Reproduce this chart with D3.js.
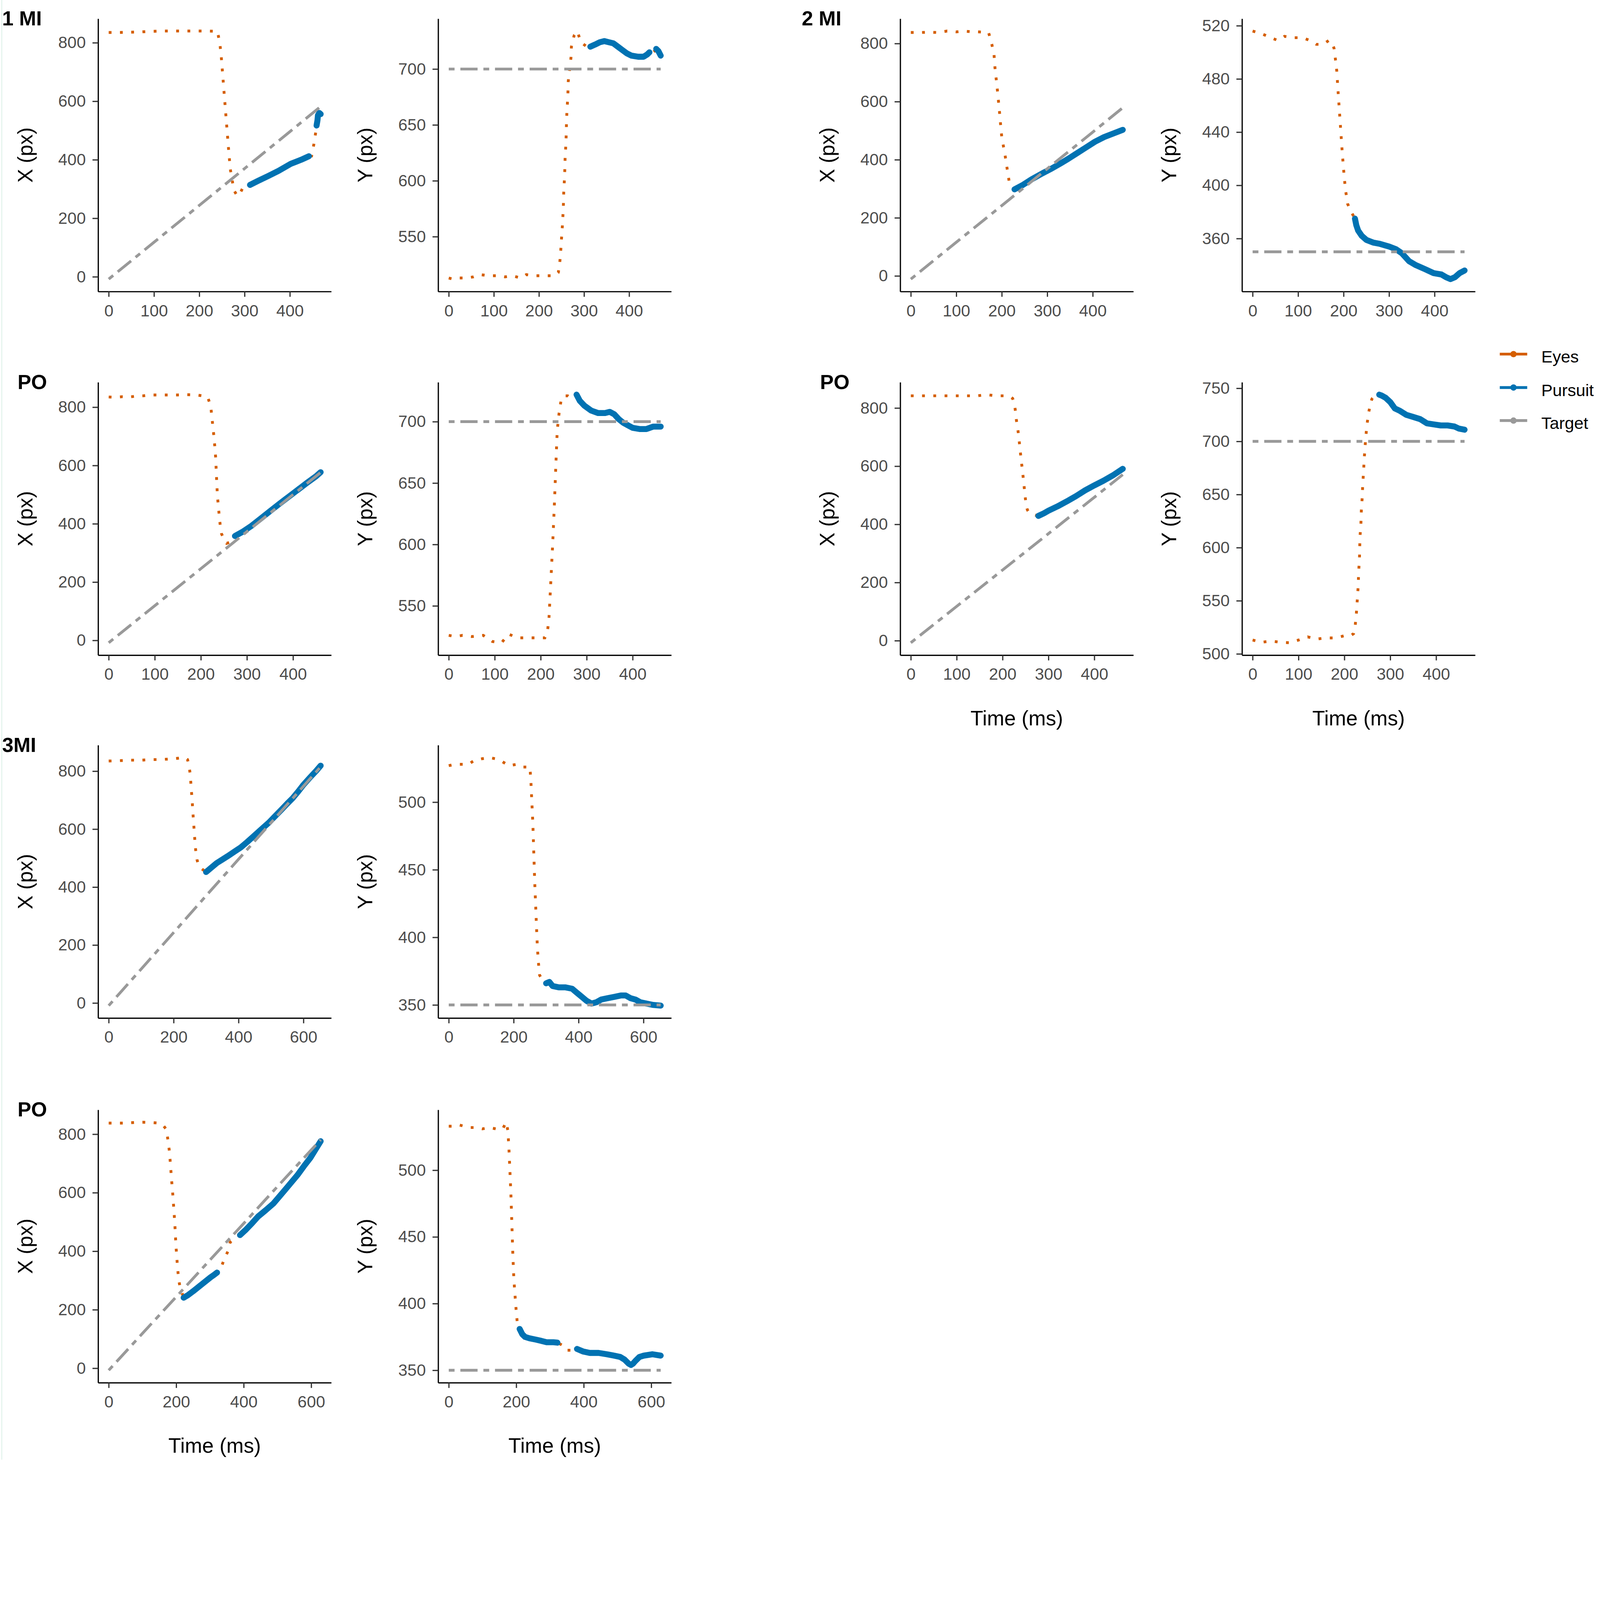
<!DOCTYPE html>
<html>
<head>
<meta charset="utf-8">
<script src="https://cdn.jsdelivr.net/npm/d3@7"></script>
<style>
  html, body { margin: 0; padding: 0; background: #fff; overflow: hidden; }
  #chart { display: block; width: 100vw; height: 100vh; }
  text { font-family: "Liberation Sans", Arial, sans-serif; }
</style>
</head>
<body>
<svg id="chart"></svg>
<script>
const width = 4550;
const height = 4151;

// ---- data: [time (ms), position (px)] ----
// 1 MI
const mi1X_eyes = [[0,835],[20,835],[45,836],[70,837],[95,839],[120,840],[145,840],[170,840],[195,840],[220,840],[240,839],[245,802],[248,763],[250,724],[252,685],[254,644],[256,606],[258,566],[260,527],[262,489],[264,448],[266,414],[268,372],[272,338],[276,297],[284,276],[290,285],[297,307],[306,312],[448,413],[453,453],[457,493]];
const mi1X_pursuit = [[312,314],[330,328],[353,345],[375,362],[402,386],[425,400],[442,412],null,[459,517],[461,535],[462,552],[465,560],[468,556]];
const mi1X_target = [[0,-8],[100,118],[200,244],[300,370],[400,496],[468,582]];

const mi1Y_eyes = [[0,513],[10,512],[20,513],[37,513],[55,514],[70,516],[90,515],[110,515],[125,514],[140,515],[160,513],[172,516],[190,515],[210,515],[235,515],[243,518],[246,526],[248,535],[250,548],[252,560],[254,575],[255,590],[257,605],[258,620],[260,635],[261,650],[262,662],[264,675],[265,689],[268,700],[271,710],[272,720],[278,730],[285,734],[293,724],[306,720],[450,714],[456,716]];
const mi1Y_pursuit = [[314,720],[325,722],[335,724],[345,725],[355,724],[365,723],[375,720],[385,717],[395,714],[405,712],[420,711],[432,711],[440,713],[445,715],null,[460,718],[465,716],[470,712]];
const mi1Y_target = [[0,700],[470,700]];

// 1 MI - PO
const po1X_eyes = [[0,835],[15,834],[30,836],[45,835],[60,838],[75,839],[90,842],[110,842],[130,842],[150,842],[170,843],[190,842],[208,838],[215,834],[219,815],[222,795],[224,765],[226,735],[228,705],[230,670],[232,630],[233,595],[234,560],[235,525],[236,495],[238,460],[240,425],[242,395],[245,365],[250,348],[256,333],[262,336],[268,346]];
const po1X_pursuit = [[274,358],[290,372],[310,393],[330,418],[350,443],[370,468],[390,492],[410,516],[430,540],[450,563],[460,577]];
const po1X_target = [[0,-8],[100,119],[200,246],[300,373],[400,500],[460,576]];

const po1Y_eyes = [[0,526],[15,525],[30,526],[50,525],[75,526],[95,521],[115,520],[130,527],[150,524],[170,524],[190,524],[209,524],[215,530],[218,540],[220,555],[222,570],[224,585],[226,600],[228,617],[230,635],[232,655],[234,675],[236,693],[240,707],[245,719],[252,721],[259,721],[268,719]];
const po1Y_pursuit = [[278,722],[285,717],[295,713],[310,709],[325,707],[340,707],[350,708],[360,706],[370,702],[380,699],[390,697],[400,695],[415,694],[430,694],[445,696],[461,696]];
const po1Y_target = [[0,700],[461,700]];

// 2 MI
const mi2X_eyes = [[0,838],[20,838],[40,839],[60,838],[80,843],[100,840],[115,843],[130,841],[150,840],[171,838],[178,798],[183,761],[185,717],[188,674],[191,630],[195,564],[197,528],[200,477],[207,418],[212,367],[216,327],[222,309]];
const mi2X_pursuit = [[228,298],[245,312],[265,332],[289,353],[310,370],[330,388],[347,404],[365,422],[385,442],[405,462],[425,478],[445,490],[466,503]];
const mi2X_target = [[0,-11],[100,116],[200,242],[300,369],[400,495],[466,579]];

const mi2Y_eyes = [[0,516],[10,515],[20,514],[40,511],[55,509],[70,512],[90,511],[110,511],[125,509],[140,506],[155,506],[168,509],[175,507],[179,503],[182,495],[185,486],[188,470],[191,455],[194,440],[197,425],[200,412],[204,397],[209,386],[214,382],[220,378]];
const mi2Y_pursuit = [[225,375],[228,370],[232,366],[240,362],[250,359],[265,357],[280,356],[300,354],[315,352],[328,349],[344,343],[359,340],[379,337],[398,334],[415,333],[425,331],[435,329.5],[445,331],[455,334],[466,336]];
const mi2Y_target = [[0,350],[466,350]];

// 2 MI - PO
const po2X_eyes = [[0,842],[20,842],[45,842],[70,842],[95,842],[120,842],[145,842],[165,846],[185,842],[205,842],[216,840],[222,833],[226,812],[228,790],[230,760],[233,730],[235,705],[237,675],[239,645],[241,615],[243,590],[245,560],[247,530],[249,500],[251,470],[254,450],[258,440],[264,436],[271,432]];
const po2X_pursuit = [[278,429],[290,438],[300,447],[320,462],[340,479],[360,497],[380,517],[400,534],[420,550],[440,568],[462,591]];
const po2X_target = [[0,-7],[100,118],[200,243],[300,368],[400,493],[462,571]];

const po2Y_eyes = [[0,513],[20,511],[40,512],[60,511],[80,510.5],[100,513],[120,516],[140,514],[160,515],[180,515],[200,517],[213,517],[220,519],[223,524],[226,537],[228,550],[230,563],[231,575],[233,592],[234,610],[236,622],[237,635],[239,648],[240,660],[242,672],[243,683],[245,693],[246,701],[248,710],[250,718],[253,727],[256,734],[260,740],[266,743],[271,744]];
const po2Y_pursuit = [[276,744],[282,743],[290,741],[300,737],[310,731],[320,729],[335,725],[350,723],[365,721],[380,717],[395,716],[410,715],[425,715],[440,714],[450,712],[462,711]];
const po2Y_target = [[0,700],[462,700]];

// 3 MI
const mi3X_eyes = [[0,835],[30,836],[60,838],[100,838],[130,840],[160,840],[200,843],[225,846],[235,847],[243,840],[248,815],[251,790],[253,760],[255,730],[257,700],[259,665],[261,630],[263,600],[265,568],[267,540],[269,515],[272,495],[276,478],[282,467],[290,460],[296,455]];
const mi3X_pursuit = [[300,452],[315,466],[333,483],[350,495],[367,507],[387,522],[407,537],[427,556],[447,576],[470,599],[493,622],[513,645],[533,668],[550,688],[567,707],[584,730],[600,753],[620,778],[640,802],[653,819]];
const mi3X_target = [[0,-9],[100,117],[200,243],[300,370],[400,496],[500,622],[600,748],[653,815]];

const mi3Y_eyes = [[0,527],[20,528],[40,528],[60,528],[80,531],[100,532],[125,533],[145,532],[165,530],[185,527],[210,528],[230,526],[250,526],[253,516],[256,500],[259,485],[261,470],[263,455],[265,440],[267,428],[270,410],[273,393],[276,382],[280,372],[290,368]];
const mi3Y_pursuit = [[300,366],[310,367],[320,364],[340,363],[360,363],[380,362],[395,359],[410,356],[425,353],[440,351],[455,352],[470,354],[490,355],[510,356],[530,357],[545,357],[560,355],[575,354],[590,352],[610,351],[630,350],[653,349.5]];
const mi3Y_target = [[0,350],[653,350]];

// 3 MI - PO
const po3X_eyes = [[0,838],[25,838],[50,838],[75,840],[100,841],[125,840],[150,838],[163,828],[171,816],[176,776],[180,740],[184,680],[186,648],[190,592],[194,527],[197,471],[199,423],[203,359],[207,305],[211,280],[216,262],[327,335],[334,347],[343,375],[353,399],[360,431],[373,443],[382,450]];
const po3X_pursuit = [[222,241],[235,250],[250,263],[263,275],[276,287],[289,299],[302,311],[312,319],[321,327],null,[389,455],[405,472],[425,496],[443,519],[465,540],[488,563],[508,590],[527,616],[543,638],[559,660],[578,690],[598,720],[614,750],[628,776]];
const po3X_target = [[0,-7],[100,119],[200,244],[300,370],[400,495],[500,621],[600,746],[628,781]];

const po3Y_eyes = [[0,533],[15,533],[30,534],[45,533],[60,532],[80,532],[100,531],[120,532],[140,531],[160,531],[170,536],[175,530],[178,518],[181,501],[184,483],[187,460],[190,436],[193,418],[197,404],[200,394],[204,383],[335,369],[348,365],[365,365]];
const po3Y_pursuit = [[210,381],[218,377],[226,375],[239,374],[258,373],[275,372],[290,371],[310,371],[322,370.7],null,[380,366],[399,364],[418,363],[444,363],[469,362],[489,361],[508,360],[521,358],[533,355],[540,354],[546,355],[553,357],[565,360],[578,361],[604,362],[628,361]];
const po3Y_target = [[0,350],[628,350]];

// tick labels
const xPxTicks = [0, 200, 400, 600, 800];
const yTicks700 = [550, 600, 650, 700];
const yTicks520 = [360, 400, 440, 480, 520];
const yTicks750 = [500, 550, 600, 650, 700, 750];
const yTicks500 = [350, 400, 450, 500];
const timeTicks400 = [0, 100, 200, 300, 400];
const timeTicks600 = [0, 200, 400, 600];

const seriesNames = ['Eyes', 'Pursuit', 'Target'];
const seriesColors = ['#D55E00', '#0072B2', '#999999'];

// ---- layout ----
const colX = [279, 1246, 2560, 3532];
const rowY = [53, 1087, 2119, 3156];
const pw = 663;
const ph = 776;

const panels = [
  { row: 0, col: 0, tag: '1 MI', tagX: 6, yLab: 'X (px)', eyes: mi1X_eyes, pursuit: mi1X_pursuit, target: mi1X_target, yTicks: xPxTicks, tTicks: timeTicks400 },
  { row: 0, col: 1, yLab: 'Y (px)', eyes: mi1Y_eyes, pursuit: mi1Y_pursuit, target: mi1Y_target, yTicks: yTicks700, tTicks: timeTicks400 },
  { row: 1, col: 0, tag: 'PO', tagX: 50, yLab: 'X (px)', eyes: po1X_eyes, pursuit: po1X_pursuit, target: po1X_target, yTicks: xPxTicks, tTicks: timeTicks400 },
  { row: 1, col: 1, yLab: 'Y (px)', eyes: po1Y_eyes, pursuit: po1Y_pursuit, target: po1Y_target, yTicks: yTicks700, tTicks: timeTicks400 },
  { row: 0, col: 2, tag: '2 MI', tagX: 2280, yLab: 'X (px)', eyes: mi2X_eyes, pursuit: mi2X_pursuit, target: mi2X_target, yTicks: xPxTicks, tTicks: timeTicks400 },
  { row: 0, col: 3, yLab: 'Y (px)', eyes: mi2Y_eyes, pursuit: mi2Y_pursuit, target: mi2Y_target, yTicks: yTicks520, tTicks: timeTicks400 },
  { row: 1, col: 2, tag: 'PO', tagX: 2332, yLab: 'X (px)', eyes: po2X_eyes, pursuit: po2X_pursuit, target: po2X_target, yTicks: xPxTicks, tTicks: timeTicks400, timeLab: true },
  { row: 1, col: 3, yLab: 'Y (px)', eyes: po2Y_eyes, pursuit: po2Y_pursuit, target: po2Y_target, yTicks: yTicks750, tTicks: timeTicks400, timeLab: true },
  { row: 2, col: 0, tag: '3MI', tagX: 6, yLab: 'X (px)', eyes: mi3X_eyes, pursuit: mi3X_pursuit, target: mi3X_target, yTicks: xPxTicks, tTicks: timeTicks600 },
  { row: 2, col: 1, yLab: 'Y (px)', eyes: mi3Y_eyes, pursuit: mi3Y_pursuit, target: mi3Y_target, yTicks: yTicks500, tTicks: timeTicks600 },
  { row: 3, col: 0, tag: 'PO', tagX: 50, yLab: 'X (px)', eyes: po3X_eyes, pursuit: po3X_pursuit, target: po3X_target, yTicks: xPxTicks, tTicks: timeTicks600, timeLab: true },
  { row: 3, col: 1, yLab: 'Y (px)', eyes: po3Y_eyes, pursuit: po3Y_pursuit, target: po3Y_target, yTicks: yTicks500, tTicks: timeTicks600, timeLab: true }
];

// viewBox keeps the whole figure inside the window, anchored top-left
const svg = d3.select('#chart')
  .attr('viewBox', `0 0 ${width} ${height}`)
  .attr('preserveAspectRatio', 'xMinYMin meet');
svg.append('rect').attr('width', width).attr('height', height).attr('fill', '#fff');
svg.append('line').attr('x1', 5).attr('x2', 5).attr('y1', 0).attr('y2', height)
  .attr('stroke', '#e3f4ec').attr('stroke-width', 3);

// ggplot-like 5% expansion
const expand = (ext) => {
  const r = ext[1] - ext[0];
  return [ext[0] - 0.05 * r, ext[1] + 0.05 * r];
};

const drawPanel = (p) => {
  const g = svg.append('g').attr('transform', `translate(${colX[p.col]},${rowY[p.row]})`);
  const pursuitPts = p.pursuit.filter((d) => d);
  const eyesFull = p.eyes.concat(pursuitPts).sort((a, b) => a[0] - b[0]);
  const all = eyesFull.concat(p.target);

  const x = d3.scaleLinear().domain(expand(d3.extent(all, (d) => d[0]))).range([0, pw]);
  const y = d3.scaleLinear().domain(expand(d3.extent(all, (d) => d[1]))).range([ph, 0]);

  const line = d3.line()
    .defined((d) => d !== null)
    .x((d) => x(d[0]))
    .y((d) => y(d[1]));

  g.append('path').datum(eyesFull)
    .attr('d', line).attr('fill', 'none')
    .attr('stroke', seriesColors[0]).attr('stroke-width', 8)
    .attr('stroke-dasharray', '8 24');

  g.append('path').datum(p.pursuit)
    .attr('d', line).attr('fill', 'none')
    .attr('stroke', seriesColors[1]).attr('stroke-width', 17)
    .attr('stroke-linecap', 'round').attr('stroke-linejoin', 'round');

  g.append('path').datum(p.target)
    .attr('d', line).attr('fill', 'none')
    .attr('stroke', seriesColors[2]).attr('stroke-width', 8)
    .attr('stroke-dasharray', '16.5 16.5 49 16.5');

  const yAxis = g.append('g')
    .call(d3.axisLeft(y).tickValues(p.yTicks).tickSize(16).tickSizeOuter(0).tickPadding(19));
  const xAxis = g.append('g').attr('transform', `translate(0,${ph})`)
    .call(d3.axisBottom(x).tickValues(p.tTicks).tickSize(15).tickSizeOuter(0).tickPadding(22));

  [yAxis, xAxis].forEach((a) => {
    a.select('.domain').attr('stroke', '#000').attr('stroke-width', 3.5);
    a.selectAll('.tick line').attr('stroke', '#333').attr('stroke-width', 3.5);
    a.selectAll('.tick text').attr('font-size', 47).attr('fill', '#4D4D4D')
      .attr('font-family', '"Liberation Sans", Arial, sans-serif');
  });

  g.append('text')
    .attr('transform', `translate(-208,${ph / 2}) rotate(-90)`)
    .attr('text-anchor', 'middle').attr('dy', '0.35em')
    .attr('font-size', 59).attr('fill', '#000')
    .text(p.yLab);

  if (p.timeLab) {
    g.append('text')
      .attr('x', pw / 2).attr('y', ph + 179).attr('dy', '0.35em')
      .attr('text-anchor', 'middle').attr('font-size', 59).attr('fill', '#000')
      .text('Time (ms)');
  }

  if (p.tag) {
    svg.append('text')
      .attr('x', p.tagX).attr('y', rowY[p.row] + 19)
      .attr('font-size', 58).attr('font-weight', 'bold').attr('fill', '#000')
      .text(p.tag);
  }
};

panels.forEach(drawPanel);

// legend
const legendY = [1007, 1102, 1196];
const legend = svg.append('g');
seriesNames.forEach((name, i) => {
  const row = legend.append('g').attr('transform', `translate(4265,${legendY[i]})`);
  row.append('line').attr('x1', 0).attr('x2', 78)
    .attr('stroke', seriesColors[i]).attr('stroke-width', 8);
  row.append('circle').attr('cx', 39).attr('r', 9).attr('fill', seriesColors[i]);
  row.append('text').attr('x', 118).attr('y', 24)
    .attr('font-size', 48).attr('fill', '#000').text(name);
});
</script>
</body>
</html>
